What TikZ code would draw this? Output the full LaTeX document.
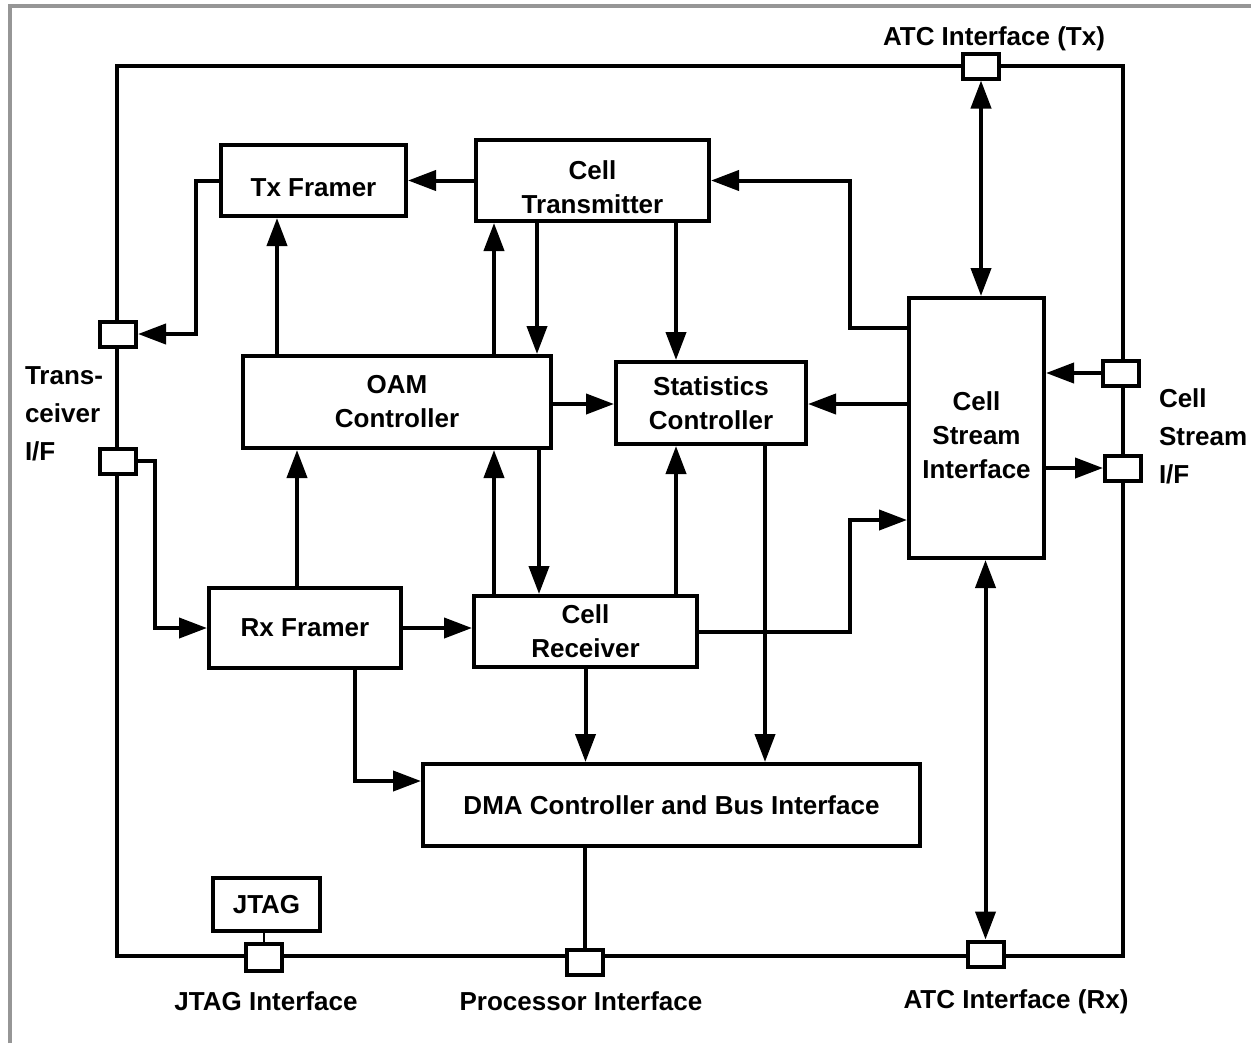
\documentclass[tikz,border=0pt]{standalone}
\usepackage{fontspec}
\setmainfont{Liberation Sans}
\usetikzlibrary{arrows.meta}

\newcommand{\blkfont}{\bfseries\fontsize{19.5}{25.5}\selectfont}
\newcommand{\lowr}{\rule{0pt}{24.5pt}}
\tikzset{every picture/.style={line width=3pt}}
\tikzset{
	blk/.style 2 args={draw, fill=white, inner sep=0pt, align=center, font=\blkfont,
		minimum width=#1*0.75pt, minimum height=#2*0.75pt},
	port/.style={draw, fill=white, inner sep=0pt, minimum width=36*0.75pt, minimum height=25*0.75pt},
	lbl/.style={inner sep=0pt, align=left, font=\blkfont},
	arr/.style={-{Triangle[length=21pt,width=15pt]}},
	dbl/.style={{Triangle[length=21pt,width=15pt]}-{Triangle[length=21pt,width=15pt]}}}

\begin{document}
\begin{tikzpicture}[x=0.75pt,y=0.75pt,yscale=-1,xscale=1]
	\useasboundingbox (0,0) rectangle (1251,1043);

	%Frame
	\draw [color={rgb, 255:red, 150; green, 150; blue, 150 }] (10,1043) -- (10,6) -- (1251,6) ;
	%Chip outline
	\draw (117,66) rectangle (1123,956) ;

	%Blocks
	\node [blk={185}{71}] (txf) at (313.5,180.5) {\lowr Tx Framer};
	\node [blk={233}{81}] (ctx) at (592.5,180.5) {\lowr Cell\\Transmitter};
	\node [blk={308}{92}] (oam) at (397,402) {OAM\\Controller};
	\node [blk={190}{82}] (stat) at (711,403) {Statistics\\Controller};
	\node [blk={135}{260}] (csi) at (976.5,428) {\lowr Cell\\Stream\\Interface};
	\node [blk={192}{80}] (rxf) at (305,628) {Rx Framer};
	\node [blk={223}{71}] (crx) at (585.5,631.5) {Cell\\Receiver};
	\node [blk={497}{82}] (dma) at (671.5,805) {DMA Controller and Bus Interface};
	\node [blk={107}{53}] (jtag) at (266.5,904.5) {JTAG};

	%Ports
	\node [port] (pAtcTx) at (981,66) {};
	\node [port] (pTrxTx) at (118,334) {};
	\node [port] (pTrxRx) at (118,461) {};
	\node [port] (pCsIn) at (1121,373) {};
	\node [port] (pCsOut) at (1123,468) {};
	\node [port, minimum height=27*0.75pt] (pJtag) at (264,957) {};
	\node [port] (pProc) at (585,962) {};
	\node [port] (pAtcRx) at (985.5,954) {};

	%Transmit side
	\draw [arr] (txf.west) -- ++(-23,0) |- (pTrxTx.east) ;
	\draw [arr] (ctx.west) -- (txf.east) ;
	\draw [arr] (oam.north -| 277,0) -- (txf.south -| 277,0) ;
	\draw [arr] (oam.north -| 494,0) -- (ctx.south -| 494,0) ;
	\draw [arr] (ctx.south -| 537,0) -- (oam.north -| 537,0) ;
	\draw [arr] (ctx.south -| 676,0) -- (stat.north -| 676,0) ;
	\draw [arr] (oam.east |- 0,404) -- (stat.west |- 0,404) ;
	\draw [arr] (csi.west |- 0,404) -- (stat.east |- 0,404) ;
	\draw [arr] (csi.west |- 0,328) -- ++(-57,0) |- (ctx.east) ;
	\draw [dbl] (pAtcTx.south) -- (csi.north -| pAtcTx.south) ;
	\draw [arr] (pCsIn.west) -- (csi.east |- pCsIn.west) ;
	\draw [arr] (csi.east |- pCsOut.west) -- (pCsOut.west) ;

	%Receive side
	\draw [arr] (pTrxRx.east) -- ++(17,0) |- (rxf.west) ;
	\draw [arr] (rxf.north -| 297,0) -- (oam.south -| 297,0) ;
	\draw [arr] (rxf.east) -- (crx.west |- rxf.east) ;
	\draw [arr] (crx.north -| 494,0) -- (oam.south -| 494,0) ;
	\draw [arr] (oam.south -| 539,0) -- (crx.north -| 539,0) ;
	\draw [arr] (crx.north -| 676,0) -- (stat.south -| 676,0) ;
	\draw [arr] (stat.south -| 765,0) -- (dma.north -| 765,0) ;
	\draw [arr] (crx.east) -- ++(151,0) |- (csi.west |- 0,520) ;
	\draw [arr] (crx.south) -- (dma.north -| crx.south) ;
	\draw [arr] (rxf.south -| 355,0) |- (dma.west |- 0,781) ;
	\draw [dbl] (csi.south -| pAtcRx.north) -- (pAtcRx.north) ;
	\draw [line width=2.5pt] (dma.south -| pProc.north) -- (pProc.north) ;
	\draw [line width=1.5pt] (pJtag.north |- jtag.south) -- (pJtag.north) ;

	% Text Node
	\node [lbl] (lAtcTx) at (994,39) {ATC Interface (Tx)};
	% Text Node
	\node [lbl, anchor=west] (lTrx) at (23,414) {Trans-\\[3pt]ceiver\\[3pt]I/F};
	% Text Node
	\node [lbl, anchor=west] (lCs) at (1157,436) {Cell\\[3pt]Stream\\[3pt]I/F};
	% Text Node
	\node [lbl] (lJtag) at (266,1001) {JTAG Interface};
	% Text Node
	\node [lbl] (lProc) at (581,1001) {Processor Interface};
	% Text Node
	\node [lbl] (lAtcRx) at (1016,1002) {ATC Interface (Rx)};
\end{tikzpicture}
\end{document}
